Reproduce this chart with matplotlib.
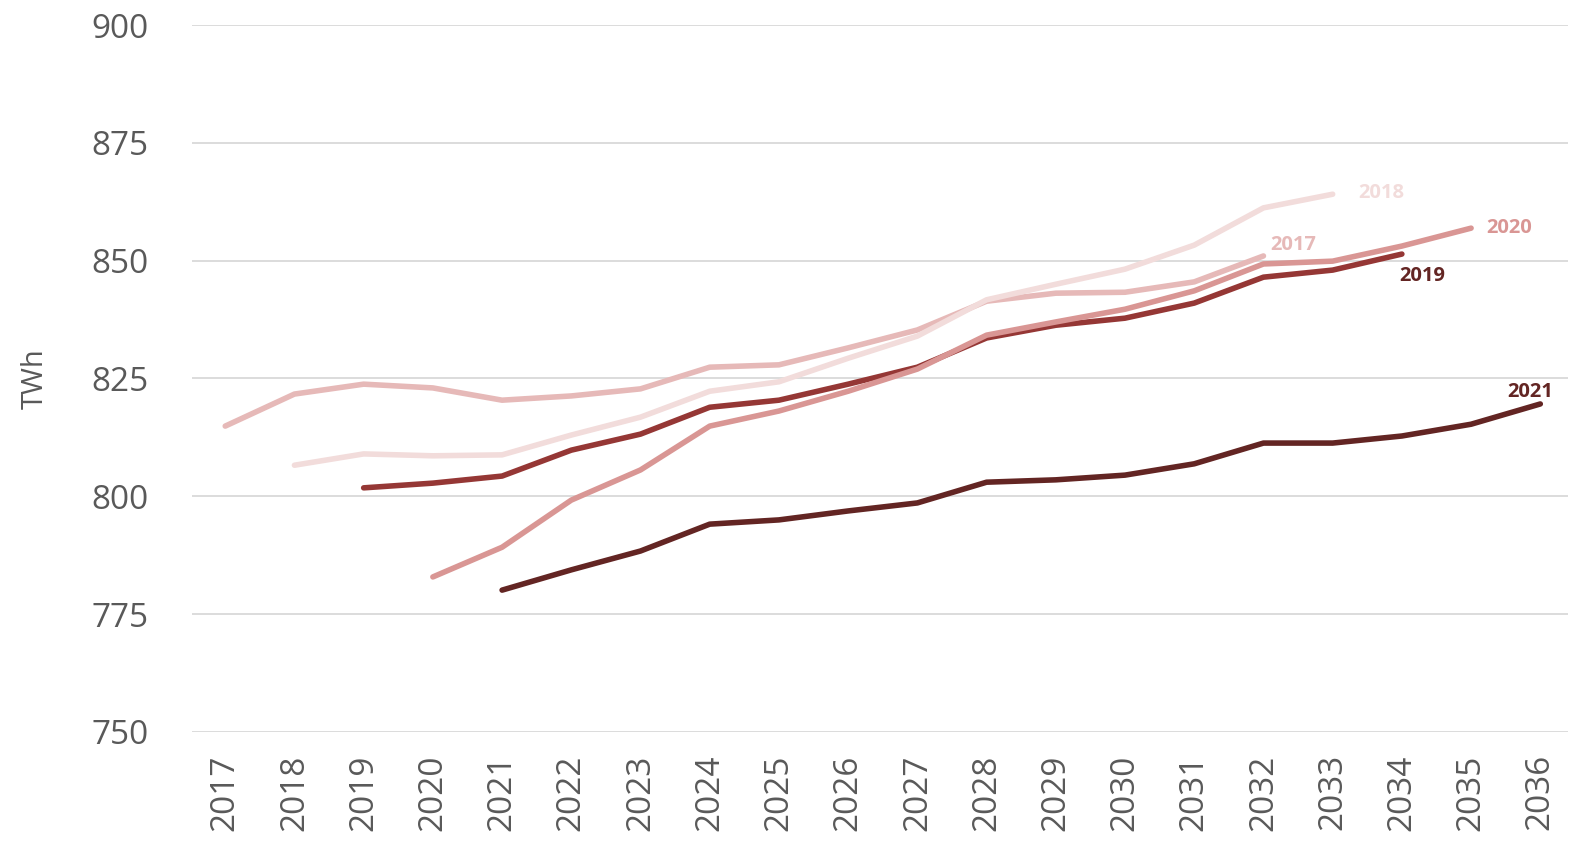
import numpy as np
import matplotlib
matplotlib.use("Agg")
import matplotlib.pyplot as plt

# --------------------------------------------
# Data (TWh forecasts, one series per forecast year)
# --------------------------------------------
years = list(range(2017, 2037))

f2017 = [814.9, 821.7, 823.8, 823.0, 820.4, 821.3, 822.8, 827.4, 827.9, 831.5,
         835.3, 841.4, 843.1, 843.3, 845.5, 851.0]
f2018 = [806.6, 809.0, 808.6, 808.8, 813.0, 816.8, 822.3, 824.3, 829.3,
         834.0, 841.7, 845.0, 848.2, 853.3, 861.2, 864.1]
f2019 = [801.8, 802.8, 804.3, 809.8, 813.2, 818.9, 820.4, 823.8,
         827.4, 833.6, 836.3, 837.8, 841.0, 846.5, 848.0, 851.4]
f2020 = [782.9, 789.2, 799.2, 805.6, 814.9, 818.1, 822.3,
         827.0, 834.2, 837.0, 839.7, 843.6, 849.3, 849.9, 853.1, 856.9]
f2021 = [780.1, 784.4, 788.4, 794.1, 795.0, 796.9,
         798.6, 803.0, 803.5, 804.5, 806.9, 811.3, 811.3, 812.8, 815.3, 819.6]

series_names = ["2017", "2018", "2019", "2020", "2021"]
series_values = [f2017, f2018, f2019, f2020, f2021]
series_start = [2017, 2018, 2019, 2020, 2021]

line_colors = ["#E6B9B8", "#F2DCDB", "#953735", "#D99694", "#632523"]
label_colors = ["#E6B9B8", "#F2DCDB", "#632523", "#D99694", "#632523"]
# label offsets from the last point, in pixels (dx, dy, ha)
label_offsets = [(7, 11, "left"), (26, 1, "left"), (-3, -22, "left"),
                 (15, 0, "left"), (-10, 12, "center")]

# --------------------------------------------
# Figure
# --------------------------------------------
plt.rcParams["font.family"] = ["Open Sans", "DejaVu Sans"]

fig = plt.figure(figsize=(15.85, 8.41), dpi=100)
ax = fig.add_axes([192 / 1585, 1 - 732 / 841, (1568 - 192) / 1585, (732 - 25) / 841])

for name, vals, start, lc, tc, (dx, dy, ha) in zip(series_names, series_values, series_start,
                                                   line_colors, label_colors, label_offsets):
    xs = list(range(start, start + len(vals)))
    ax.plot(xs, vals, color=lc, lw=4, solid_capstyle="round", solid_joinstyle="round", zorder=3)
    ax.annotate(name, (xs[-1], vals[-1]), xytext=(dx, dy), textcoords="offset pixels",
                ha=ha, va="center", fontsize=14.5, fontweight="bold", color=tc, zorder=4)

ax.set_xlim(2016.52, 2036.4)
ax.set_ylim(750, 900)
ax.set_yticks(np.arange(750, 901, 25))
ax.set_xticks(years)
ax.set_xticklabels([str(y) for y in years], rotation=90)

ax.grid(axis="y", color="#D9D9D9", lw=1.3, zorder=0)
ax.set_axisbelow(True)
for s in ax.spines.values():
    s.set_visible(False)
ax.tick_params(length=0, colors="#595959", labelsize=24)
ax.tick_params(axis="y", pad=31)
ax.tick_params(axis="x", pad=16)

ax.set_ylabel("TWh", fontsize=21, color="#595959", labelpad=30)

plt.savefig("out.png", dpi=100)
plt.close()
